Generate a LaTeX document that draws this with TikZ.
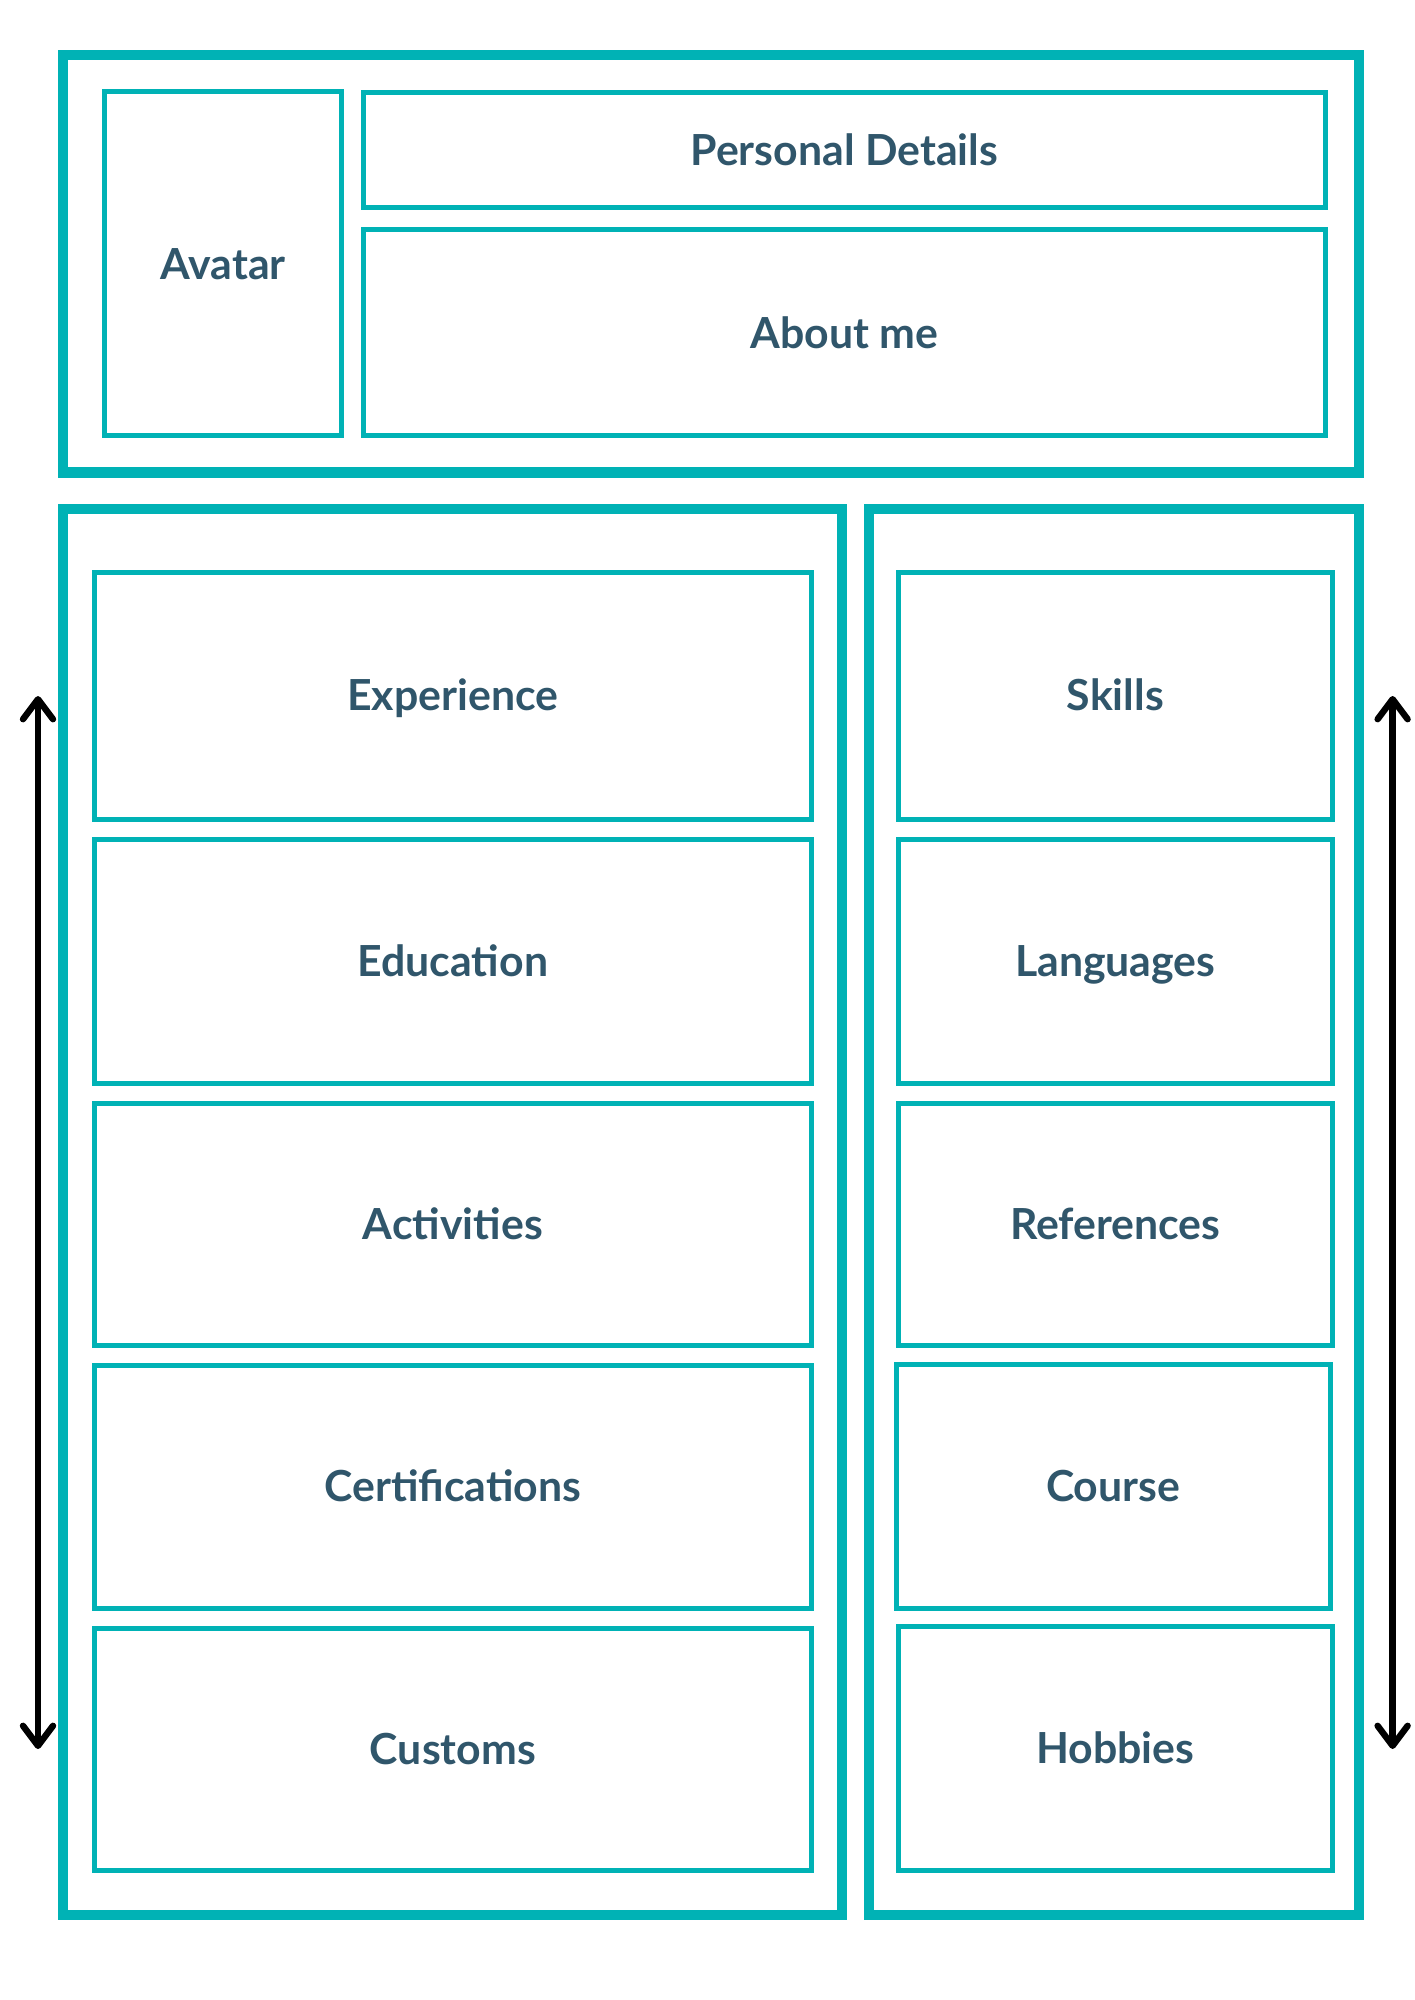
\documentclass[tikz,border=0pt]{standalone}
\usepackage{fontspec}
\setmainfont{Lato}
\usetikzlibrary{arrows.meta,fit}
\definecolor{tealline}{HTML}{00B2B5}
\definecolor{ink}{HTML}{30566B}

\tikzset{
  panel/.style={draw=tealline, line width=5pt, rectangle, inner sep=0pt},
  card/.style={draw=tealline, line width=2.5pt, rectangle, inner sep=0pt},
  title/.style={inner sep=0pt, font=\fontsize{21.4pt}{24pt}\selectfont\bfseries,
    text=ink, text height=15.35pt, text depth=0pt},
  titled/.style={card, label={[title]center:#1}},
  span/.style={line width=3.2pt, line cap=round, black,
    {Straight Barb[length=10pt,width=15pt,round]}-{Straight Barb[length=10pt,width=15pt,round]}}
}

\begin{document}
\begin{tikzpicture}[x=0.5pt,y=-0.5pt]
  \useasboundingbox[fill=white] (0,0) rectangle (1414,2000);

  % header panel
  \node[panel, fit={(63,55) (1359,472.5)}] (header) {};
  \node[titled=Avatar, fit={(104.8,92) (341.5,435.5)}] (avatar) {};
  \node[titled=Personal Details, fit={(363.5,92.5) (1325,207.5)}] (details) {};
  \node[titled=About me, fit={(363.5,230) (1325,435.5)}] (about) {};

  % main column
  \node[panel, fit={(63,509) (842,1915)}] (maincol) {};
  \node[titled=Experience, fit={(94,572) (811.7,819)}] (experience) {};
  \node[titled=Education, fit={(94,839.5) (811.7,1083)}] (education) {};
  \node[titled=Activities, fit={(94,1103) (811.7,1345)}] (activities) {};
  \node[titled=Certifications, fit={(94,1365) (811.7,1608)}] (certs) {};
  \node[titled=Customs, fit={(94,1628) (811.7,1870)}] (customs) {};

  % side column
  \node[panel, fit={(869,509) (1359,1915)}] (sidecol) {};
  \node[titled=Skills, fit={(898,572) (1332.6,819)}] (skills) {};
  \node[titled=Languages, fit={(898,839.5) (1332.6,1083)}] (languages) {};
  \node[titled=References, fit={(898,1103) (1332.6,1345)}] (references) {};
  \node[titled=Course, fit={(896,1364) (1330.2,1608)}] (course) {};
  \node[titled=Hobbies, fit={(898,1626.5) (1332.6,1870)}] (hobbies) {};

  % expansion arrows beside the columns
  \coordinate (leftTop) at (38,696);
  \coordinate (leftBot) at (38,1749);
  \coordinate (rightTop) at (1392.6,696);
  \coordinate (rightBot) at (1392.6,1749);
  \draw[span] (leftTop) -- (leftBot);
  \draw[span] (rightTop) -- (rightBot);
\end{tikzpicture}
\end{document}
